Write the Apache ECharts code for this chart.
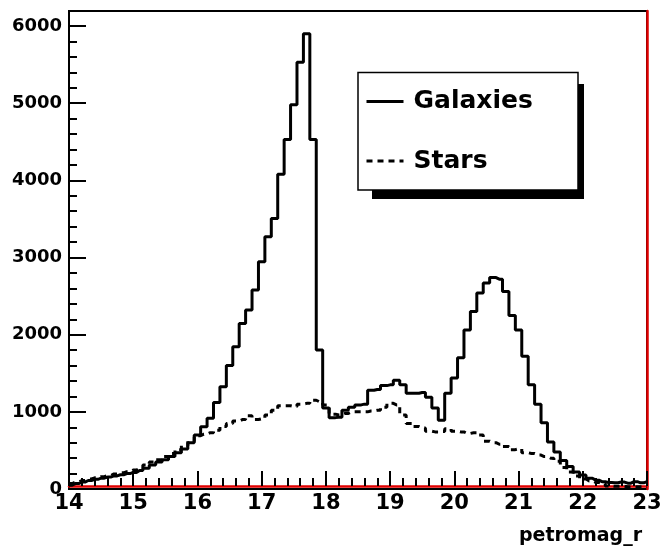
<!DOCTYPE html>
<html>
<head>
<meta charset="utf-8">
<script src="https://cdn.jsdelivr.net/npm/echarts@6/dist/echarts.min.js"></script>
<style>
  html, body { margin: 0; padding: 0; background: #fff; }
  #chart { width: 665px; height: 548px; }
</style>
</head>
<body>
<div id="chart"></div>
<script>
// Histogram binning: 0.1 mag bins centred on 14.0, 14.1, ... 23.0
const firstBinCenter = 14.0;
const binWidth = 0.1;

// Counts per bin, galaxies
const galaxies = [
  50, 70, 90, 110, 125, 140, 155, 170, 185, 200,
  215, 240, 270, 310, 350, 380, 420, 470, 520, 600,
  700, 807, 916, 1120, 1325, 1600, 1843, 2146, 2319, 2578,
  2944, 3268, 3506, 4080, 4530, 4980, 5530, 5900, 4530, 1800,
  1050, 925, 930, 1020, 1060, 1090, 1100, 1280, 1290, 1340,
  1350, 1410, 1350, 1240, 1240, 1250, 1190, 1050, 890, 1240,
  1440, 1700, 2060, 2300, 2540, 2670, 2740, 2720, 2560, 2250,
  2060, 1720, 1350, 1100, 860, 610, 480, 370, 290, 220,
  180, 140, 115, 95, 85, 80, 90, 75, 95, 80,
  95
];

// Counts per bin, stars
const stars = [
  70, 90, 110, 130, 145, 160, 175, 195, 210, 225,
  245, 270, 310, 350, 380, 420, 460, 510, 560, 620,
  690, 710, 730, 760, 810, 850, 880, 900, 950, 900,
  910, 960, 1020, 1080, 1080, 1070, 1100, 1110, 1150, 1130,
  1090, 970, 960, 980, 1000, 1000, 1000, 1010, 1020, 1060,
  1110, 1090, 960, 850, 810, 790, 750, 740, 745, 780,
  750, 740, 720, 730, 700, 620, 600, 580, 550, 510,
  520, 470, 460, 440, 420, 400, 360, 280, 220, 170,
  130, 105, 85, 70, 40, 35, 35, 30, 30, 30,
  30
];

const xMin = 14, xMax = 23, xStep = 1;
const yMin = 0, yMax = 6195, yStep = 1000, yMinorStep = 200;
const xTitle = 'petromag_r';

const FONT = 'DejaVu Sans';

function toPoints(values) {
  return values.map((v, i) => [Number((firstBinCenter + i * binWidth).toFixed(2)), v]);
}

const chart = echarts.init(document.getElementById('chart'), null, { renderer: 'canvas' });

const option = {
  animation: false,
  backgroundColor: '#fff',
  grid: {
    left: 69, top: 11, right: 18, bottom: 59,
    show: true, borderColor: '#000', borderWidth: 2, backgroundColor: 'transparent'
  },
  xAxis: {
    type: 'value',
    min: xMin, max: xMax, interval: xStep,
    offset: -3,
    axisLine: { show: true, onZero: false, lineStyle: { color: '#e00000', width: 2.5 } },
    axisTick: { show: true, inside: true, length: 15, lineStyle: { color: '#000', width: 2 } },
    minorTick: { show: true, splitNumber: 5, length: 8, lineStyle: { color: '#000', width: 2 } },
    splitLine: { show: false },
    axisLabel: {
      show: true, margin: 7, showMinLabel: true, showMaxLabel: true,
      fontFamily: FONT, fontWeight: 'bold', fontSize: 21, color: '#000'
    }
  },
  yAxis: [
    {
      type: 'value', position: 'left',
      min: yMin, max: yMax, interval: yStep,
      axisLine: { show: true, onZero: false, lineStyle: { color: '#000', width: 2 } },
      axisTick: { show: true, inside: true, length: 17, lineStyle: { color: '#000', width: 2 } },
      splitLine: { show: false },
      axisLabel: {
        margin: 7,
        fontFamily: FONT, fontWeight: 'bold', fontSize: 18, color: '#000',
        formatter: v => (v % yStep === 0 ? String(v) : '')
      }
    },
    {
      type: 'value', position: 'left',
      min: yMin, max: yMax, interval: yMinorStep,
      axisLine: { show: false },
      axisTick: { show: true, inside: true, length: 8, lineStyle: { color: '#000', width: 2 } },
      splitLine: { show: false },
      axisLabel: { show: false }
    },
    {
      type: 'value', position: 'right',
      min: yMin, max: yMax, interval: yStep,
      axisLine: { show: true, onZero: false, lineStyle: { color: '#e00000', width: 2.5 } },
      axisTick: { show: false },
      splitLine: { show: false },
      axisLabel: { show: false }
    }
  ],
  legend: {
    orient: 'vertical',
    left: 365, top: 89,
    padding: 0,
    itemWidth: 37, itemHeight: 25, itemGap: 34.5,
    selectedMode: false,
    itemStyle: { opacity: 0 },
    lineStyle: { width: 3 },
    textStyle: {
      fontFamily: FONT, fontWeight: 'bold', fontSize: 25, color: '#000',
      padding: [0, 0, 0, 5]
    },
    data: ['Galaxies', 'Stars']
  },
  graphic: [
    {
      type: 'rect', z: 3,
      shape: { x: 372, y: 84, width: 212, height: 115 },
      style: { fill: '#000' }
    },
    {
      type: 'rect', z: 3,
      shape: { x: 358, y: 72.5, width: 220, height: 117.5 },
      style: { fill: '#fff', stroke: '#000', lineWidth: 1.5 }
    },
    {
      type: 'text', z: 3,
      x: 642, y: 546,
      style: {
        text: xTitle, textAlign: 'right', textVerticalAlign: 'bottom',
        font: 'bold 19px "DejaVu Sans"', fill: '#000'
      }
    }
  ],
  series: [
    {
      name: 'Galaxies', type: 'line', step: 'middle',
      data: toPoints(galaxies),
      symbol: 'none', z: 5,
      lineStyle: { color: '#000', width: 3, type: 'solid' },
      itemStyle: { color: '#000' }
    },
    {
      name: 'Stars', type: 'line', step: 'middle',
      data: toPoints(stars),
      symbol: 'none', z: 4,
      lineStyle: { color: '#000', width: 3, type: [6, 5] },
      itemStyle: { color: '#000' }
    }
  ]
};

chart.setOption(option);
</script>
</body>
</html>
